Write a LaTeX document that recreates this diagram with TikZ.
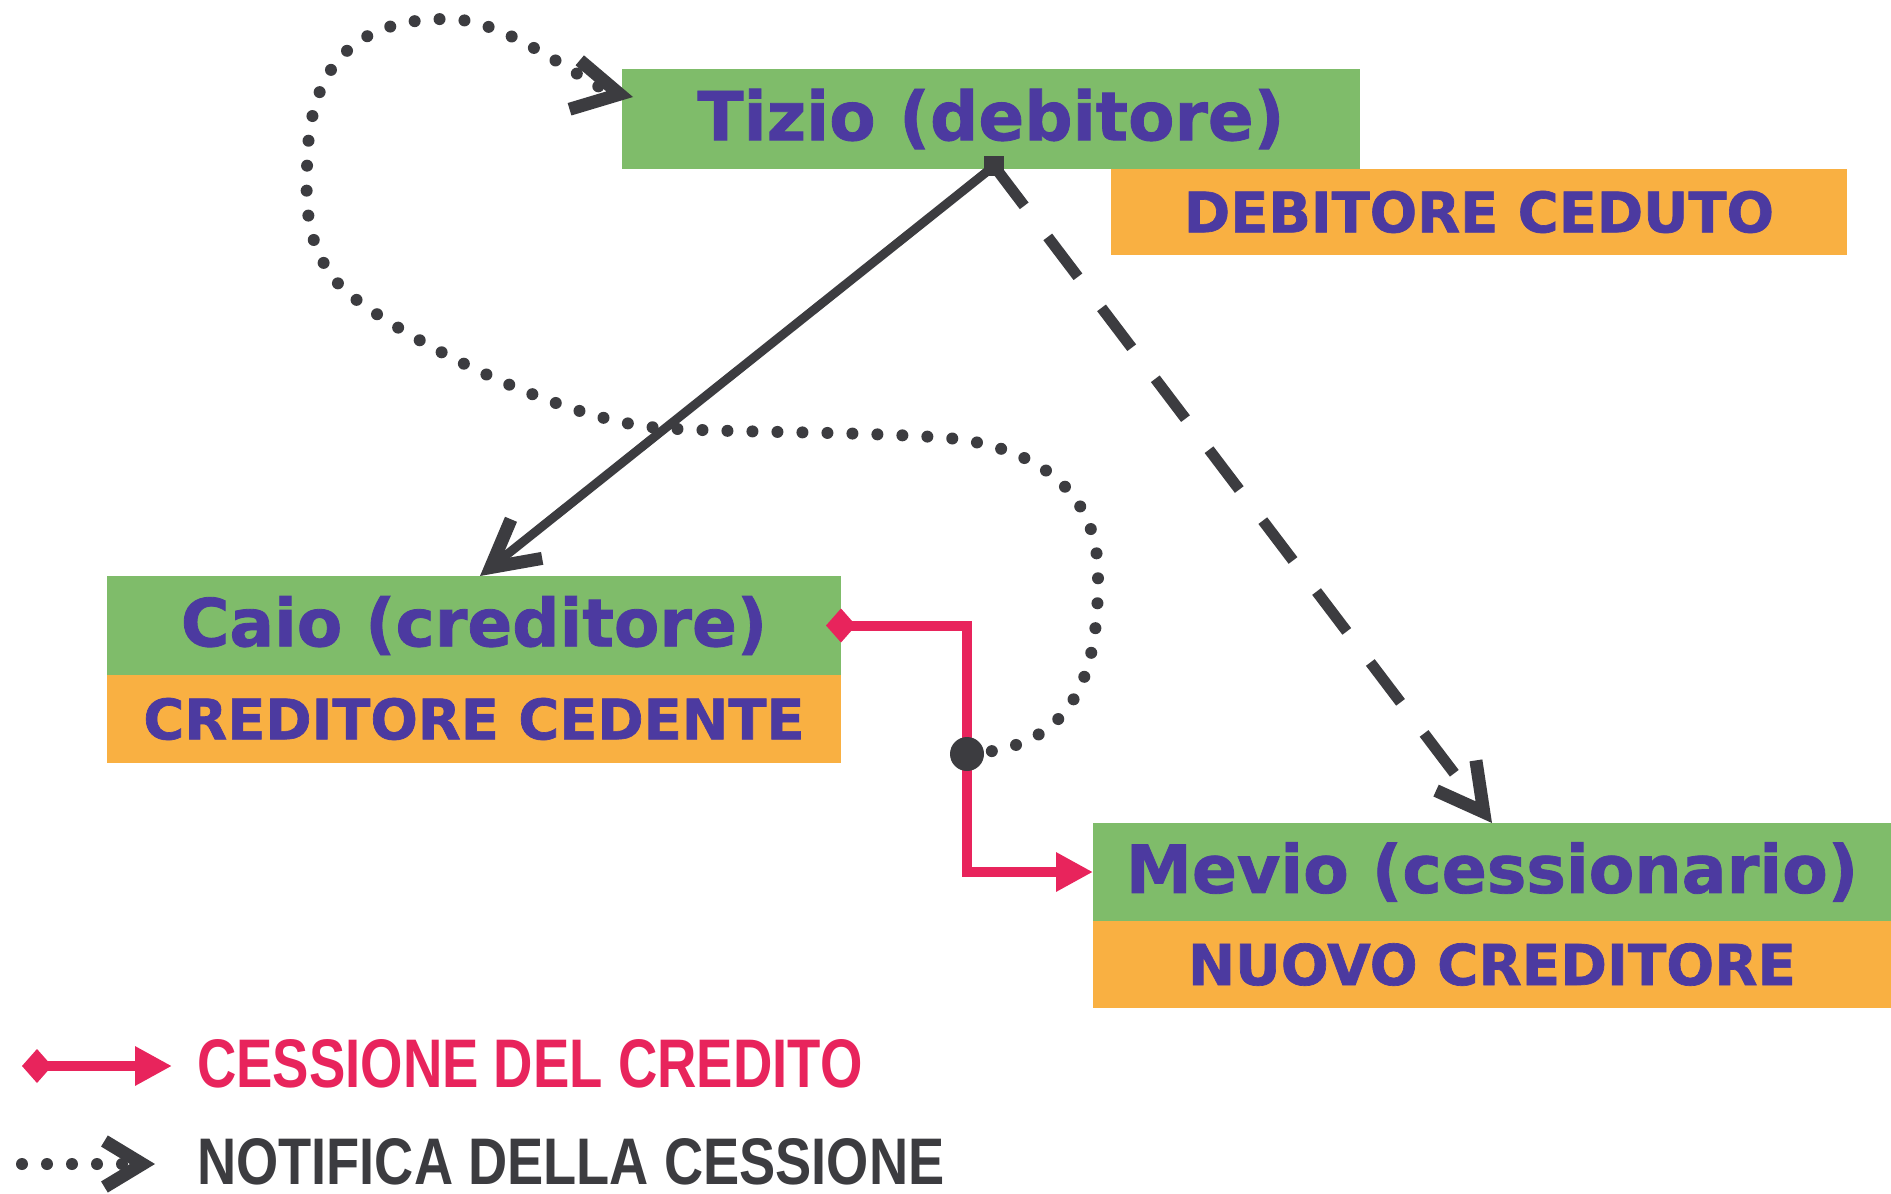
\documentclass[tikz,border=0pt]{standalone}
\usepackage{fontspec}
\usepackage{graphicx}
\usetikzlibrary{arrows.meta}
\newfontfamily\boxfont{DejaVu Sans}[BoldFeatures={FakeBold=1.2}]
\newfontfamily\legfont{Liberation Sans}
\definecolor{boxgreen}{RGB}{127,188,106}
\definecolor{boxorange}{RGB}{249,176,66}
\definecolor{txtblue}{RGB}{76,58,160}
\definecolor{arrowgray}{RGB}{60,60,64}
\definecolor{redc}{RGB}{232,36,92}
\begin{document}
\begin{tikzpicture}[x=1pt,y=-1pt,
  box/.style={inner sep=0pt, outer sep=0pt, anchor=north west, text=txtblue, font=\boxfont\bfseries},
  namebox/.style={box, fill=boxgreen},
  rolebox/.style={box, fill=boxorange},
  solidline/.style={draw=arrowgray, line width=9pt, -{Straight Barb[length=46pt,width=50pt,line width=13pt]}},
  dashline/.style={draw=arrowgray, line width=11pt, dash pattern=on 50pt off 39pt, -{Straight Barb[length=46pt,width=50pt,line width=13pt]}},
  dotline/.style={draw=arrowgray, line width=12pt, dash pattern=on 0pt off 25pt, line cap=round, -{Straight Barb[length=46pt,width=50pt,line width=13pt]}},
  legdotline/.style={dotline, -{Straight Barb[length=38pt,width=46pt,line width=13pt]}},
  redline/.style={draw=redc, line width=10pt, line join=miter, {Diamond[length=30pt,width=34pt]}-{Triangle[length=37pt,width=37pt]}},
  blackdot/.style={circle, fill=arrowgray, minimum size=34pt, inner sep=0pt},
  junction/.style={fill=arrowgray, minimum size=20pt, inner sep=0pt},
  legtext/.style={anchor=west, inner sep=0pt, font=\legfont\bfseries}
]
\useasboundingbox (0,0) rectangle (1891,1194);
\fill[white] (0,0) rectangle (1891,1194);

% boxes
\node[namebox, minimum width=738pt, minimum height=100pt] (tizio) at (622,69) {\resizebox{587pt}{!}{Tizio (debitore)}};
\node[rolebox, minimum width=736pt, minimum height=86pt] (tiziorole) at (1111,169) {\resizebox{590pt}{!}{DEBITORE CEDUTO}};
\node[namebox, minimum width=734pt, minimum height=99pt] (caio) at (107,576) {\resizebox{586pt}{!}{Caio (creditore)}};
\node[rolebox, minimum width=734pt, minimum height=88pt] (caiorole) at (107,675) {\resizebox{661pt}{!}{CREDITORE CEDENTE}};
\node[namebox, minimum width=798pt, minimum height=98pt] (mevio) at (1093,823) {\resizebox{732pt}{!}{Mevio (cessionario)}};
\node[rolebox, minimum width=798pt, minimum height=87pt] (meviorole) at (1093,921) {\resizebox{608pt}{!}{NUOVO CREDITORE}};

% debt relations
\node[junction] (jn) at (994,166) {};
\draw[solidline] (jn.center) -- ([xshift=6pt]caio.north);
\draw[dashline] (jn.center) -- (mevio.north);

% assignment
\coordinate (dotc) at (967,754);
\draw[redline] ([xshift=-15pt]caio.east) -| (dotc) |- (mevio.west);
\node[blackdot] (dot) at (dotc) {};

% notification
\coordinate (dotend) at (633,97);
\draw[dotline] (dot.center) .. controls (1065,748) and (1099,690) .. (1098,575)
  .. controls (1098,480) and (1020,442) .. (935,437)
  .. controls (830,431) and (740,433) .. (660,428)
  .. controls (560,420) and (404,340) .. (344,290)
  .. controls (310,255) and (305,215) .. (307,172)
  .. controls (307,70) and (350,18) .. (450,19)
  .. controls (510,20) and (590,88) .. (dotend);

% legend
\coordinate (lr1) at (22,1066);
\coordinate (lr2) at (172,1066);
\draw[redline] (lr1) -- (lr2);
\node[legtext, text=redc] (lt1) at (197,1064) {\resizebox{665pt}{48pt}{CESSIONE DEL CREDITO}};
\coordinate (ld1) at (22,1164);
\coordinate (ld2) at (155,1164);
\draw[legdotline] (ld1) -- (ld2);
\node[legtext, text=arrowgray] (lt2) at (197,1162) {\resizebox{747pt}{46pt}{NOTIFICA DELLA CESSIONE}};
\end{tikzpicture}
\end{document}
